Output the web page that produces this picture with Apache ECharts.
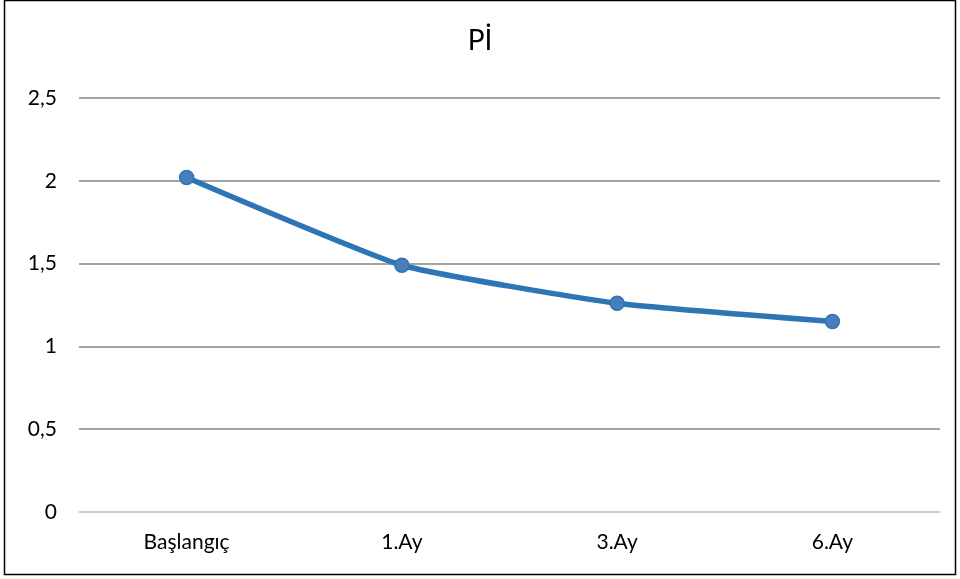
<!DOCTYPE html>
<html lang="tr">
<head>
	<meta charset="UTF-8">
	<title>Pİ</title>
	<script src="https://cdn.jsdelivr.net/npm/echarts@6/dist/echarts.min.js"></script>
	<style>
		html,body{margin:0;padding:0;background:#fff;}
		#main{width:960px;height:579px;}
	</style>
</head>
<body>
	<div id="main"></div>
	<script>
		var kategoriler = ['Başlangıç', '1.Ay', '3.Ay', '6.Ay'];
		var degerler = [2.02, 1.49, 1.26, 1.15];
		var yEtiketleri = [0, 0.5, 1, 1.5, 2, 2.5];

		var myChart = echarts.init(document.getElementById('main'));
		var option = {
			animation: false,
			textStyle: {fontFamily: 'Lato'},
			title: {
				text: 'Pİ',
				left: 'center',
				top: 22,
				textStyle: {fontFamily: 'Lato', fontSize: 28, fontWeight: 'normal', color: '#000'}
			},
			graphic: [{
				type: 'rect',
				shape: {x: 4.5, y: 0.5, width: 951, height: 574},
				style: {fill: 'none', stroke: '#000', lineWidth: 1.5},
				silent: true
			}],
			grid: {left: 79, right: 20, top: 98, bottom: 67, containLabel: false},
			xAxis: {
				type: 'category',
				data: kategoriler,
				boundaryGap: true,
				axisLine: {show: true, lineStyle: {color: '#d9d9d9', width: 1.5}},
				axisTick: {show: false},
				axisLabel: {color: '#000', fontSize: 21, margin: 20}
			},
			yAxis: {
				type: 'value',
				min: yEtiketleri[0],
				max: yEtiketleri[yEtiketleri.length - 1],
				interval: 0.5,
				axisLine: {show: false},
				axisTick: {show: false},
				splitLine: {lineStyle: {color: '#868686', width: 1.5}},
				axisLabel: {
					color: '#000',
					fontSize: 21,
					margin: 22,
					formatter: function (v) { return String(v).replace('.', ','); }
				}
			},
			series: [{
				type: 'line',
				data: degerler,
				smooth: 0.15,
				symbol: 'circle',
				symbolSize: 14,
				lineStyle: {color: '#2E75B6', width: 5.5},
				itemStyle: {color: '#4A7EBB', borderColor: '#2E75B6', borderWidth: 1.5}
			}]
		};
		myChart.setOption(option);
	</script>
</body>
</html>
